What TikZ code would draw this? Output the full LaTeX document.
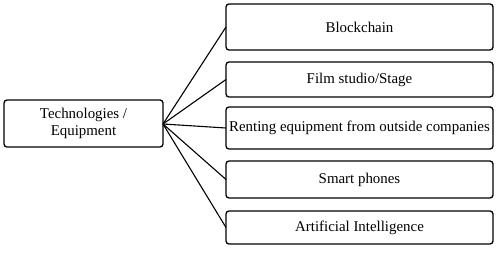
\documentclass[tikz,border=0pt]{standalone}
\usepackage{fontspec}
\setmainfont{Liberation Serif}
\begin{document}
\begin{tikzpicture}[x=1pt,y=-1pt,
  box/.style={draw, line width=1.3pt, rounded corners=3pt},
  txt/.style={font=\fontsize{14.9}{16.5}\selectfont, align=center},
  conn/.style={line width=1.1pt}]
\useasboundingbox (0,0) rectangle (500,253);
\draw[box] (4,100) rectangle (163,147);
\node[txt] (root) at (83.5,123.5) {Technologies /\\Equipment};
\coordinate (hub) at (163,124);
\foreach \n/\t/\b/\lab in {b1/4/50/Blockchain, b2/62/97/Film studio\slash Stage, b3/107/149/Renting equipment from outside companies, b4/161/198/Smart phones, b5/211/244/Artificial Intelligence}{
  \draw[box] (226,\t) rectangle (493,\b);
  \node[txt] (\n) at (359.5,{(\t+\b)/2}) {\lab};
  \coordinate (\n L) at (226,{(\t+\b)/2});
  \draw[conn] (hub) -- (\n L);
}
\end{tikzpicture}
\end{document}
